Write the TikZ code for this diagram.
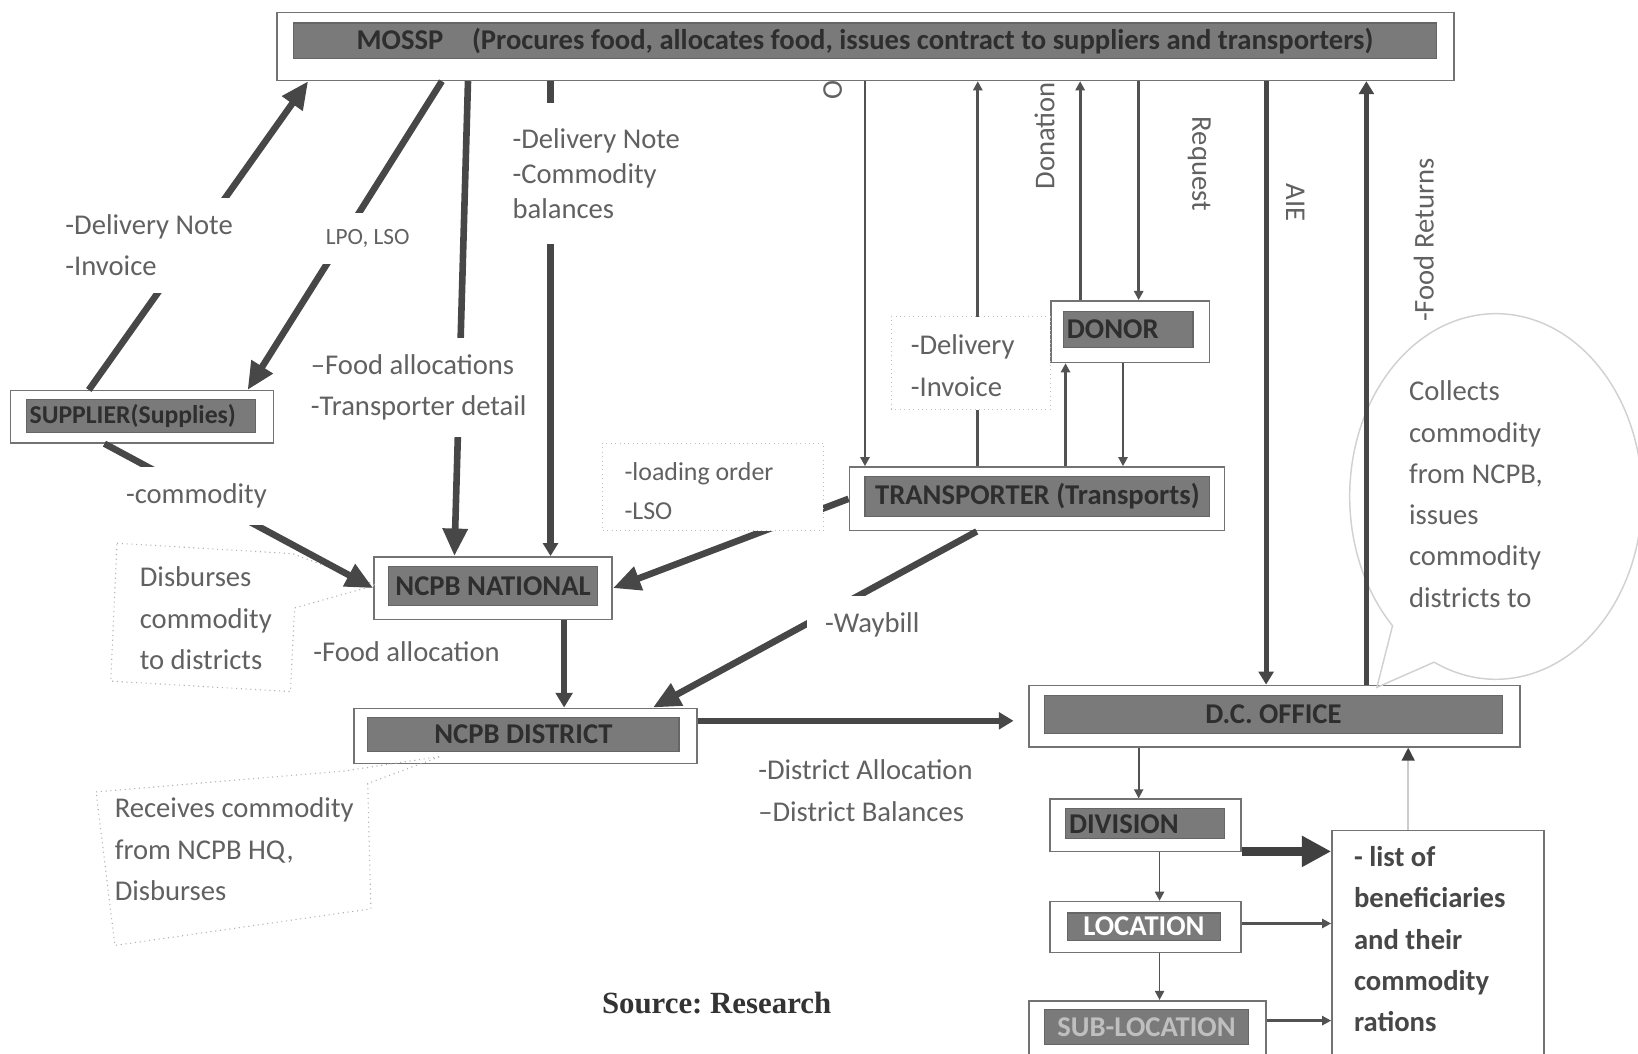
\documentclass[tikz,border=0pt]{standalone}
\usepackage{fontspec}
\setmainfont{Carlito}
\newfontfamily\srcfont{Liberation Serif}
\usetikzlibrary{positioning,arrows.meta,fit}

\begin{document}
\begin{tikzpicture}[x=0.02cm,y=-0.02cm,>=Triangle,
    frame/.style={draw=black!55,line width=0.8pt,fill=white,inner sep=0pt},
    bar/.style={draw=black!60,fill=black!52,line width=0.6pt,inner sep=0pt},
    boxtext/.style={font=\fontsize{15.6}{17}\selectfont\bfseries,text=black!82,inner sep=2pt},
    lbl/.style={font=\fontsize{15.6}{22.5}\selectfont,text=black!62,align=left,inner sep=2pt},
    gap/.style={lbl,fill=white,inner xsep=3pt,inner ysep=9pt},
    heavy/.style={draw=black!72,line width=3.6pt,-{Triangle[length=15pt,width=13pt]}},
    medium/.style={draw=black!72,line width=2.6pt,-{Triangle[length=7pt,width=8pt]}},
    thin/.style={draw=black!68,line width=1.6pt,-{Triangle[length=5pt,width=5pt]}},
    note/.style={draw=black!30,line width=0.6pt,dotted}]

\useasboundingbox (0,0) rectangle (1568,1008);

% boxes
\node[frame,fit={(265,12)(1392,77)}] (mossp) {};
\node[bar,fit={(281,22)(1375,56)}] (mosspbar) {};
\node[boxtext] (mossptext) at (mosspbar) {MOSSP\quad(Procures food, allocates food, issues contract to suppliers and transporters)};

\node[frame,fit={(10,374)(262,424)}] (sup) {};
\node[bar,fit={(25,382)(245,414)}] (supbar) {};
\node[boxtext,anchor=west,font=\fontsize{14}{16}\selectfont\bfseries] (suptext) at (supbar.west) {SUPPLIER(Supplies)};

\node[frame,fit={(358,533)(586,593)}] (nat) {};
\node[bar,fit={(372,542)(572,580)}] (natbar) {};
\node[boxtext] (nattext) at (natbar) {NCPB NATIONAL};

\node[frame,fit={(339,678)(667,731)}] (dist) {};
\node[bar,fit={(352,687)(650,719)}] (distbar) {};
\node[boxtext] (disttext) at (distbar) {NCPB DISTRICT};

\node[frame,fit={(813,447)(1172,508)}] (trans) {};
\node[bar,fit={(828,456)(1158,494)}] (transbar) {};
\node[boxtext] (transtext) at (transbar) {TRANSPORTER (Transports)};

\node[frame,fit={(1006,288)(1158,347)}] (donor) {};
\node[bar,fit={(1018,298)(1142,333)}] (donorbar) {};
\node[boxtext,anchor=west] (donortext) at (donorbar.west) {DONOR};

\node[frame,fit={(985,656)(1455,715)}] (dc) {};
\node[bar,fit={(1000,666)(1438,702)}] (dcbar) {};
\node[boxtext] (dctext) at (dcbar) {D.C. OFFICE};

\node[frame,fit={(1005,765)(1188,815)}] (div) {};
\node[bar,fit={(1020,774)(1172,803)}] (divbar) {};
\node[boxtext,anchor=west] (divtext) at (divbar.west) {DIVISION};

\node[frame,fit={(1005,863)(1188,912)}] (loc) {};
\node[bar,fit={(1022,874)(1168,900)}] (locbar) {};
\node[boxtext,text=white] (loctext) at (locbar) {LOCATION};

\node[frame,fit={(985,958)(1212,1030)}] (subloc) {};
\node[bar,fit={(1000,966)(1195,1000)}] (sublocbar) {};
\node[boxtext,text=black!25] (subloctext) at (sublocbar) {SUB-LOCATION};

\node[frame,fit={(1275,795)(1478,1030)}] (list) {};
\node[font=\fontsize{15.6}{22.5}\selectfont\bfseries,text=black!72,align=left,anchor=west] (listtext) at (1290,899) {- list of\\beneficiaries\\and their\\commodity\\rations};

% callouts
\draw[note] (112,520) -- (280,530) -- (360,560) -- (282,582) -- (278,662) -- (106,652) -- cycle;
\draw[black!18,line width=0.8pt] (1318,658) -- (1333,599) arc[start angle=135,end angle=475,x radius=140,y radius=175] -- cycle;
\draw[note] (92,758) -- (330,738) -- (422,724) -- (352,750) -- (355,870) -- (110,905) -- cycle;

% connectors
\draw[heavy] (85,0 |- sup.north) -- (295,0 |- mossp.south);
\draw[heavy] (423,0 |- mossp.south) -- (237,0 |- sup.north);
\draw[heavy] (448,0 |- mossp.south) -- (435,0 |- nat.north);
\draw[medium,line width=3.4pt] (527,0 |- mossp.south) -- (527,0 |- nat.north);
\draw[thin] (828,0 |- mossp.south) -- (828,0 |- trans.north);
\draw[thin] (936,0 |- trans.north) -- (936,0 |- mossp.south);
\draw[thin] (1034,0 |- donor.north) -- (1034,0 |- mossp.south);
\draw[thin] (1090,0 |- mossp.south) -- (1090,0 |- donor.north);
\draw[thin] (1020,0 |- trans.north) -- (1020,0 |- donor.south);
\draw[thin] (1075,0 |- donor.south) -- (1075,0 |- trans.north);
\draw[medium] (1212,0 |- mossp.south) -- (1212,0 |- dc.north);
\draw[medium] (1308,0 |- dc.north) -- (1308,0 |- mossp.south);
\draw[heavy] (trans.west) -- (nat.east);
\draw[heavy] (935,0 |- trans.south) -- (625,0 |- dist.north);
\draw[heavy] (100,0 |- sup.south) -- (nat.west);
\draw[heavy,-{Triangle[length=8pt,width=9pt]}] (540,0 |- nat.south) -- (540,0 |- dist.north);
\draw[heavy,-{Triangle[length=8pt,width=9pt]},shorten >=8pt] (dist.east |- 0,690) -- (dc.west |- 0,690);
\draw[thin,line width=1pt] (1090,0 |- dc.south) -- (1090,0 |- div.north);
\draw[thin,line width=1pt] (1110,0 |- div.south) -- (1110,0 |- loc.north);
\draw[thin,line width=1pt] (1110,0 |- loc.south) -- (1110,0 |- subloc.north);
\draw[draw=black!75,line width=5pt,-{Triangle[length=16pt,width=16pt]}] (div.east |- 0,815) -- (list.west |- 0,815);
\draw[thin,line width=1.8pt] (loc.east |- 0,884) -- (list.west |- 0,884);
\draw[thin,line width=1.8pt] (subloc.east |- 0,977) -- (list.west |- 0,977);
\draw[black!20,line width=0.8pt,-{Triangle[length=7pt,width=7pt,color=black!75]}] (1348,0 |- list.north) -- (1348,0 |- dc.south);

% labels
\node[gap,anchor=west] (dnote) at (57,235) {-Delivery Note\\-Invoice};
\node[gap,font=\fontsize{12.7}{14}\selectfont] (lpo) at (352,228) {LPO, LSO};
\node[gap,anchor=west] (falloc) at (292,371) {–Food allocations\\-Transporter detail};
\node[gap,anchor=west,font=\fontsize{15.6}{19}\selectfont,inner ysep=14pt] (dbal) at (485,166) {-Delivery Note\\-Commodity\\balances};
\node[gap,anchor=west] (comm) at (115,475) {-commodity};
\node[gap,anchor=west,inner xsep=10pt] (waybill) at (772,598) {-Waybill};
\node[lbl,anchor=west] (fallocd) at (296,624) {-Food allocation};
\node[lbl,anchor=west] (dalloc) at (722,757) {-District Allocation\\--District Balances};
\node[lbl,anchor=west] (disb) at (130,592) {Disburses\\commodity\\to districts};
\node[lbl,anchor=west] (recv) at (106,813) {Receives commodity\\from NCPB HQ,\\Disburses};
\node[lbl,anchor=west] (coll) at (1345,473) {Collects\\commodity\\from NCPB,\\issues\\commodity\\districts to};
\node[fill=white,draw=black!25,dotted,inner sep=0pt,fit={(853,303)(1005,392)}] (dibox) {};
\node[lbl,anchor=west] (dinv) at (868,350) {-Delivery\\-Invoice};
\node[fill=white,draw=black!25,dotted,inner sep=0pt,fit={(577,424)(788,508)}] (lobox) {};
\node[lbl,anchor=west,font=\fontsize{14.1}{21}\selectfont] (lorder) at (594,470) {-loading order\\-LSO};
\node[lbl,anchor=west,rotate=90] (donation) at (1000,185) {Donation};
\node[lbl,anchor=west,rotate=-90] (request) at (1148,108) {Request};
\node[lbl,anchor=west,rotate=-90] (aie) at (1240,172) {AIE};
\node[lbl,anchor=west,rotate=90] (freturn) at (1363,312) {-Food Returns};
\node[lbl,rotate=90] (ofrag) at (797,86) {O};
\node[font=\fontsize{16.8}{18}\selectfont\srcfont\bfseries\frenchspacing,text=black!80] (src) at (686,960) {Source: Research};
\end{tikzpicture}
\end{document}
